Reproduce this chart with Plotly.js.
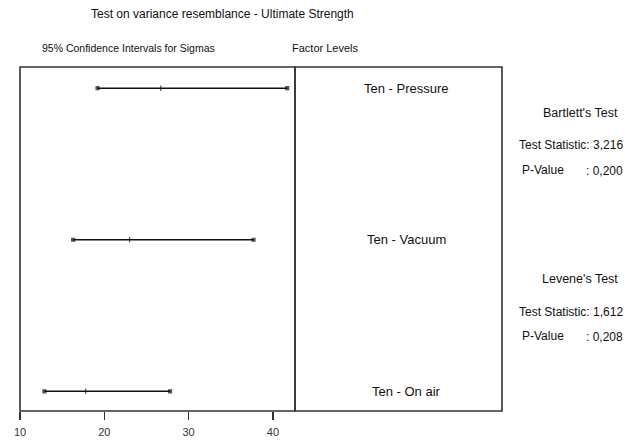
<!DOCTYPE html>
<html>
<head>
<meta charset="utf-8">
<script src="https://cdn.plot.ly/plotly-3.0.1.min.js"></script>
<style>html,body{margin:0;padding:0;background:#fff;}#chart{width:639px;height:440px;}</style>
</head>
<body>
<div id="chart"></div>
<script>
// ---- data ----
const levels = ['Ten - Pressure', 'Ten - Vacuum', 'Ten - On air'];
const lowerCI = [19.2, 16.3, 12.9];
const sigmaEst = [26.7, 23.0, 17.8];
const upperCI = [41.7, 37.7, 27.8];
const xTicks = [10, 20, 30, 40];
const bartlettStat = '3,216';
const bartlettP = '0,200';
const leveneStat = '1,612';
const leveneP = '0,208';

const W = 639, H = 440;
const px = v => v / W;
const py = v => 1 - v / H;
const font = 'Liberation Sans, Arial, sans-serif';

const traces = levels.map((lv, i) => ({
  type: 'scatter',
  mode: 'lines+markers',
  x: [lowerCI[i], sigmaEst[i], upperCI[i]],
  y: [lv, lv, lv],
  xaxis: 'x', yaxis: 'y',
  line: {color: '#111', width: 1.6},
  marker: {symbol: ['square', 'line-ns', 'square'], size: [3, 4, 3], color: '#111',
           line: {color: '#111', width: 1.2}},
  showlegend: false, hoverinfo: 'x+y'
}));

const annotations = [];
function txt(text, x, y, size, xanchor) {
  annotations.push({text: text, xref: 'paper', yref: 'paper', x: px(x), y: py(y),
    xanchor: xanchor || 'center', yanchor: 'middle', showarrow: false,
    font: {family: font, size: size, color: '#111'}});
}
txt('Test on variance resemblance - Ultimate Strength', 222, 14, 12);
txt('95% Confidence Intervals for Sigmas', 128, 48, 10.5);
txt('Factor Levels', 325, 48, 11);
levels.forEach(lv => {
  annotations.push({text: lv, xref: 'x2', yref: 'y', x: 0.54, y: lv,
    xanchor: 'center', yanchor: 'middle', showarrow: false,
    font: {family: font, size: 13, color: '#111'}});
});
txt("Bartlett's Test", 580, 113, 12.5);
txt('Test Statistic: ' + bartlettStat, 517, 145, 12, 'left');
txt('P-Value', 520, 170, 12, 'left');
txt(': ' + bartlettP, 584, 171, 12, 'left');
txt("Levene's Test", 580, 279, 12.5);
txt('Test Statistic: ' + leveneStat, 517, 312, 12, 'left');
txt('P-Value', 520, 336, 12, 'left');
txt(': ' + leveneP, 584, 337, 12, 'left');

const shapes = [
  {type: 'rect', xref: 'paper', yref: 'paper', x0: px(20), x1: px(295), y0: py(411), y1: py(67),
   line: {color: '#333', width: 1.6}},
  {type: 'rect', xref: 'paper', yref: 'paper', x0: px(295), x1: px(502), y0: py(411), y1: py(67),
   line: {color: '#333', width: 1.6}}
];

const layout = {
  width: W, height: H,
  margin: {l: 0, r: 0, t: 0, b: 0},
  paper_bgcolor: '#fff', plot_bgcolor: '#fff',
  showlegend: false,
  xaxis: {domain: [px(20), px(295)], range: [10, 42.62], tickvals: xTicks,
          ticks: 'outside', ticklen: 8, tickwidth: 1.5, tickcolor: '#333',
          showgrid: false, zeroline: false, showline: false,
          ticklabelstandoff: 3,
          tickfont: {family: font, size: 11, color: '#333'}, automargin: false, fixedrange: true},
  xaxis2: {domain: [px(295), px(502)], range: [0, 1], anchor: 'y', visible: false, fixedrange: true},
  yaxis: {domain: [py(411), py(67)], type: 'category',
          categoryorder: 'array', categoryarray: levels.slice().reverse(),
          range: [-0.13, 2.14], showticklabels: false, ticks: '', showgrid: false,
          zeroline: false, showline: false, automargin: false, fixedrange: true},
  annotations: annotations,
  shapes: shapes
};

Plotly.newPlot('chart', traces, layout, {displayModeBar: false, staticPlot: true});
</script>
</body>
</html>
